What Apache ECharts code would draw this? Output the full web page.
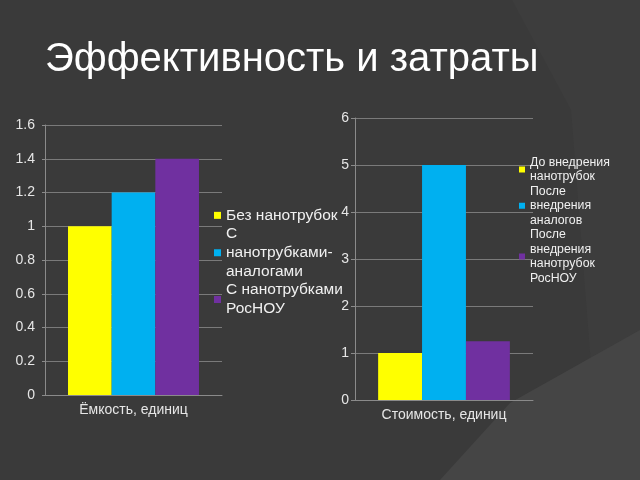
<!DOCTYPE html>
<html>
<head>
<meta charset="utf-8">
<script src="https://cdn.jsdelivr.net/npm/echarts@6/dist/echarts.min.js"></script>
<style>
  html, body { margin: 0; padding: 0; background: #3a3a3a; }
  #main { width: 640px; height: 480px; }
</style>
</head>
<body>
<div id="main"></div>
<script>
// данные
var titleText = 'Эффективность и затраты';
var leftCategory = ['Ёмкость, единиц'];
var leftNames = ['Без нанотрубок', 'С нанотрубками-аналогами', 'С нанотрубками РосНОУ'];
var leftLabels = ['Без нанотрубок', 'С\nнанотрубками-\nаналогами', 'С нанотрубками\nРосНОУ'];
var leftValues = [1, 1.2, 1.4];

var rightCategory = ['Стоимость, единиц'];
var rightNames = ['До внедрения нанотрубок', 'После внедрения аналогов', 'После внедрения нанотрубок РосНОУ'];
var rightLabels = ['До внедрения\nнанотрубок', 'После\nвнедрения\nаналогов', 'После\nвнедрения\nнанотрубок\nРосНОУ'];
var rightValues = [1, 5, 1.25];

var colors = ['#ffff00', '#00b0f0', '#7030a0'];

var chart = echarts.init(document.getElementById('main'));

var series = [];
leftNames.forEach(function (n, i) {
  series.push({
    name: n, type: 'bar', xAxisIndex: 0, yAxisIndex: 0,
    data: [leftValues[i]], barGap: '0%', barCategoryGap: '26%',
    itemStyle: { color: colors[i] }
  });
});
rightNames.forEach(function (n, i) {
  series.push({
    name: n, type: 'bar', xAxisIndex: 1, yAxisIndex: 1,
    data: [rightValues[i]], barGap: '0%', barCategoryGap: '26%',
    itemStyle: { color: colors[i] }
  });
});

function labelOf(name) {
  var i = leftNames.indexOf(name);
  if (i >= 0) return leftLabels[i];
  return rightLabels[rightNames.indexOf(name)];
}

var axisText = { color: '#e6e6e6', fontFamily: 'Liberation Sans', fontSize: 14 };

var option = {
  backgroundColor: '#3a3a3a',
  animation: false,
  graphic: [
    { type: 'polygon', silent: true, z: -10,
      shape: { points: [[512, 0], [640, 0], [640, 480], [600, 480], [571, 110]] },
      style: { fill: '#3d3d3d' } },
    { type: 'polygon', silent: true, z: -9,
      shape: { points: [[640, 330], [640, 480], [440, 480], [510, 403]] },
      style: { fill: '#454545' } }
  ],
  title: {
    text: titleText, left: 40, top: 35,
    textStyle: { color: '#ffffff', fontSize: 40, fontWeight: 'normal', fontFamily: 'Liberation Sans' }
  },
  legend: [
    {
      data: leftNames, orient: 'vertical', left: 214, top: 206, itemGap: 0, padding: 0,
      itemWidth: 7, itemHeight: 7, icon: 'rect',
      formatter: labelOf,
      textStyle: { color: '#f0f0f0', fontSize: 15.5, lineHeight: 18.7, fontFamily: 'Liberation Sans' }
    },
    {
      data: rightNames, orient: 'vertical', left: 519, top: 155, itemGap: 0, padding: 0,
      itemWidth: 6, itemHeight: 6, icon: 'rect',
      formatter: labelOf,
      textStyle: { color: '#f0f0f0', fontSize: 12.3, lineHeight: 14.5, fontFamily: 'Liberation Sans' }
    }
  ],
  grid: [
    { left: 45, top: 125, width: 177, height: 270 },
    { left: 355, top: 118, width: 178, height: 282 }
  ],
  xAxis: [
    { type: 'category', gridIndex: 0, data: leftCategory,
      axisLine: { lineStyle: { color: '#8a8a8a' } }, axisTick: { show: false },
      axisLabel: Object.assign({ margin: 8, fontSize: 15 }, axisText) },
    { type: 'category', gridIndex: 1, data: rightCategory,
      axisLine: { lineStyle: { color: '#8a8a8a' } }, axisTick: { show: false },
      axisLabel: Object.assign({ margin: 8, fontSize: 15 }, axisText) }
  ],
  yAxis: [
    { type: 'value', gridIndex: 0, min: 0, max: 1.6, interval: 0.2,
      axisLine: { show: true, lineStyle: { color: '#8a8a8a' } },
      axisTick: { show: true, length: 3, lineStyle: { color: '#8a8a8a' } },
      splitLine: { lineStyle: { color: '#7a7a7a' } },
      axisLabel: Object.assign({ margin: 10, formatter: function (v) { return +v.toFixed(1) + ''; } }, axisText) },
    { type: 'value', gridIndex: 1, min: 0, max: 6, interval: 1,
      axisLine: { show: true, lineStyle: { color: '#8a8a8a' } },
      axisTick: { show: true, length: 4, lineStyle: { color: '#8a8a8a' } },
      splitLine: { lineStyle: { color: '#7a7a7a' } },
      axisLabel: Object.assign({ margin: 6 }, axisText) }
  ],
  series: series
};

chart.setOption(option);
</script>
</body>
</html>
